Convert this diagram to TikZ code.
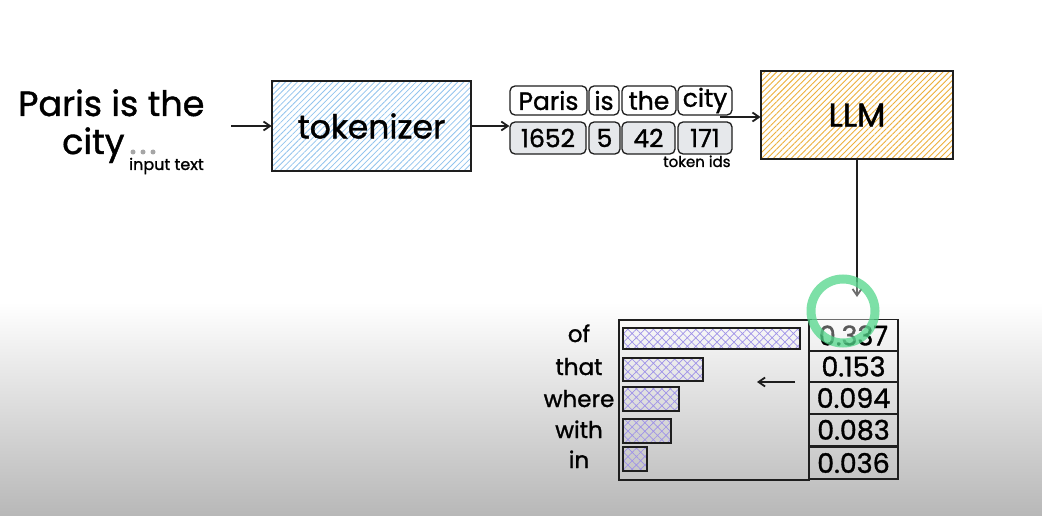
\documentclass[tikz,border=0pt]{standalone}
\usepackage{fontspec}
\setmainfont{Poppins}[FakeBold=1.2]
\usetikzlibrary{arrows.meta,patterns.meta}

\definecolor{inkc}{HTML}{1E1E1E}
\definecolor{bluehatch}{HTML}{92C4EE}
\definecolor{orangehatch}{HTML}{EDB03C}
\definecolor{violethatch}{HTML}{9F92E8}
\definecolor{idfill}{HTML}{E6E8EB}
\definecolor{ringc}{HTML}{52D68A}

\newcommand{\fsz}[1]{\fontsize{#1}{#1}\selectfont}

\begin{document}
\begin{tikzpicture}[x=1pt,y=-1pt,
  arr/.style={draw=inkc,line width=1.8pt,-{Straight Barb[length=6.5pt,width=9pt]}},
  bigbox/.style={draw=inkc,line width=1.8pt,rectangle,inner sep=0pt},
  tok/.style={draw=inkc,line width=1.3pt,rounded corners=5pt,fill=white,
              inner sep=0pt,minimum height=29pt,font=\fsz{25}},
  tokid/.style={tok,fill=idfill,minimum height=32pt},
  bar/.style={draw=inkc,line width=1.8pt,
              pattern={Hatch[angle=45,distance=6pt,line width=0.7pt]},
              pattern color=violethatch},
  cell/.style={draw=inkc,line width=1.6pt,rectangle,inner sep=0pt,
               minimum width=89pt,minimum height=32pt,font=\fsz{27}},
  word/.style={anchor=base,font=\fsz{23},inner sep=0pt},
  small/.style={font=\fsz{16},inner sep=0pt,anchor=base west}
]
\useasboundingbox (0,0) rectangle (1042,516);

% page background with the darker band at the bottom
\fill[white] (0,0) rectangle (1042,302);
\shade[top color=white,bottom color=black!28] (0,302) rectangle (1042,516);

% input text
\node[font=\fsz{35},inner sep=0pt,anchor=base west] (line1) at (18,116) {Paris is the};
\node[font=\fsz{35},inner sep=0pt,anchor=base west] (line2) at (62,154) {city};
\foreach \i/\xx in {1/133,2/143,3/153}
  \fill[gray!70] (\xx,152) circle (2.5pt);
\node[small] (intext) at (129,170) {input text};
\coordinate (instart) at (231,126);

% tokenizer
\node[bigbox,minimum width=199pt,minimum height=90pt,
      pattern={Lines[angle=45,distance=4.2pt,line width=0.8pt]},pattern color=bluehatch]
      (tokenizer) at (371.5,126) {};
\node[font=\fsz{33},inner sep=0pt] (toklabel) at (tokenizer.center) {tokenizer};

% tokens and their ids
\node[tok,minimum width=77pt] (tParis) at (548.5,100.5) {Paris};
\node[tok,minimum width=30pt] (tis)    at (604,100.5) {is};
\node[tok,minimum width=54pt] (tthe)   at (649,100.5) {the};
\node[tok,minimum width=54pt] (tcity)  at (705,100.5) {city};
\node[tokid,minimum width=76pt] (i1652) at (548,138) {1652};
\node[tokid,minimum width=31pt] (i5)    at (604.5,138) {5};
\node[tokid,minimum width=53pt] (i42)   at (648.5,138) {42};
\node[tokid,minimum width=54pt] (i171)  at (705,138) {171};
\node[small,font=\fsz{15}] (tokids) at (663,167) {token ids};
\coordinate (tokout) at (720,117);

% LLM
\node[bigbox,minimum width=192pt,minimum height=88pt,
      pattern={Lines[angle=45,distance=4.2pt,line width=0.9pt]},pattern color=orangehatch]
      (llm) at (857,115) {};
\node[font=\fsz{33},inner sep=0pt] (llmlabel) at (llm.center) {LLM};
\coordinate (probin) at (857,297);

% probability table
\draw[draw=inkc,line width=1.8pt] (619,320) rectangle (809,480);
\node[cell] (v1) at (853.5,335.5) {0.337};
\node[cell] (v2) at (853.5,366.5) {0.153};
\node[cell] (v3) at (853.5,398)   {0.094};
\node[cell] (v4) at (853.5,430)   {0.083};
\node[cell] (v5) at (853.5,463)   {0.036};

\draw[bar] (623,328) rectangle (800,349);
\draw[bar] (623,358) rectangle (703,381);
\draw[bar] (623,387) rectangle (679,411);
\draw[bar] (623,419) rectangle (671,443);
\draw[bar] (623,447) rectangle (647,471);

\node[word] (wof)    at (579,342) {of};
\node[word] (wthat)  at (579,375) {that};
\node[word] (wwhere) at (579,407) {where};
\node[word] (wwith)  at (579,438) {with};
\node[word] (win)    at (579,468) {in};

\coordinate (backfrom) at (795,382);
\coordinate (backto) at (757,382);

% connectors
\draw[arr] (instart) -- (instart -| tokenizer.west);
\draw[arr] (tokenizer.east) -- (tokenizer.east -| tParis.west);
\draw[arr] (tokout) -- (tokout -| llm.west);
\draw[arr] (llm.south) -- (probin);
\draw[arr] (backfrom) -- (backto);

% pointer highlight
\fill[white,opacity=0.35] (843,311) circle (32pt);
\draw[ringc,line width=9pt,opacity=0.75] (843,311) circle (32pt);
\end{tikzpicture}
\end{document}
